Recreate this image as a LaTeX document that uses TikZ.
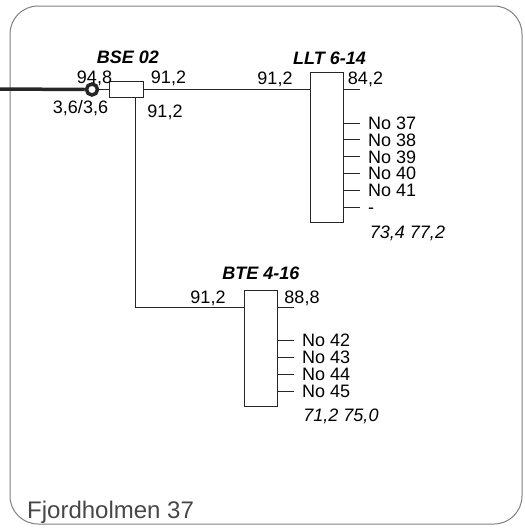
\documentclass[tikz,border=0pt]{standalone}
\usepackage{fontspec}
\setmainfont{Liberation Sans}
\begin{document}
\begin{tikzpicture}[x=1pt,y=-1pt,
  lbl/.style={font=\fontsize{18}{18}\selectfont, inner sep=0pt, text height=12.8pt, text depth=0pt},
  ttl/.style={lbl, font=\fontsize{18}{18}\selectfont\bfseries\itshape},
  itl/.style={lbl, font=\fontsize{18}{18}\selectfont\itshape},
  boxn/.style={draw=black!85, line width=1pt, inner sep=0pt, fill=white},
  wire/.style={draw=black!85, line width=1pt},
  frame/.style={draw=black!50, line width=1pt, rounded corners=28pt}]
\useasboundingbox (0,0) rectangle (525,528);
% frame
\draw[frame] (10,6) rectangle (522,524);
% feeder and cable end
\coordinate (feed) at (0,89);
\node[circle, draw=black!85, line width=3.5pt, minimum size=11pt, inner sep=0pt] (circ) at (92,89.5) {};
\draw[draw=black!85, line width=3.5pt] (feed) -- (circ.west);
% boxes
\node[boxn, minimum width=34pt, minimum height=16pt] (bse) at (126,89.5) {};
\node[boxn, minimum width=33pt, minimum height=150pt] (llt) at (326.5,147) {};
\node[boxn, minimum width=33pt, minimum height=116pt] (bte) at (260.5,348.5) {};
% connectors
\draw[wire] (circ.east) -- (bse.west);
\draw[wire] (bse.east) -- (bse.east -| llt.west);
\coordinate (tap) at (135,307);
\draw[wire] (bse.south -| tap) -- (tap) -- (tap -| bte.west);
% BSE labels
\node[ttl] (tbse) at (128,57) {BSE 02};
\node[lbl] (a948) at (94.5,77) {94,8};
\node[lbl] (a912) at (168.5,77) {91,2};
\node[lbl] (a36) at (80.5,107.5) {3,6/3,6};
\node[lbl] (b912) at (165,111) {91,2};
% LLT labels
\node[ttl] (tllt) at (329.5,58) {LLT 6-14};
\node[lbl] (c912) at (275,78) {91,2};
\node[lbl] (c842) at (365.5,78) {84,2};
\coordinate (e842) at (360,89.5);
\draw[wire] (llt.east |- e842) -- (e842);
\node[lbl, anchor=west] (n37) at (368,123) {No 37};
\node[lbl, anchor=west] (n38) at (368,139.8) {No 38};
\node[lbl, anchor=west] (n39) at (368,156.6) {No 39};
\node[lbl, anchor=west] (n40) at (368,173.4) {No 40};
\node[lbl, anchor=west] (n41) at (368,190.2) {No 41};
\node[lbl, anchor=west] (n00) at (368,207) {-};
\foreach \n in {n37,n38,n39,n40,n41,n00}
  \draw[wire] (llt.east |- \n.west) -- ([xshift=-8pt]\n.west);
\node[itl] (vllt) at (407.5,232) {73,4 77,2};
% BTE labels
\node[ttl] (tbte) at (261,273) {BTE 4-16};
\node[lbl] (d912) at (208,297) {91,2};
\node[lbl] (d888) at (302,297) {88,8};
\coordinate (e888) at (294,307);
\draw[wire] (bte.east |- e888) -- (e888);
\node[lbl, anchor=west] (n42) at (302,340) {No 42};
\node[lbl, anchor=west] (n43) at (302,357) {No 43};
\node[lbl, anchor=west] (n44) at (302,374) {No 44};
\node[lbl, anchor=west] (n45) at (302,391) {No 45};
\foreach \n in {n42,n43,n44,n45}
  \draw[wire] (bte.east |- \n.west) -- ([xshift=-8pt]\n.west);
\node[itl] (vbte) at (341,415) {71,2 75,0};
% title
\node[font=\fontsize{24}{24}\selectfont, text=black!72, inner sep=0pt, anchor=base west] (name) at (27,518) {Fjordholmen 37};
\end{tikzpicture}
\end{document}
